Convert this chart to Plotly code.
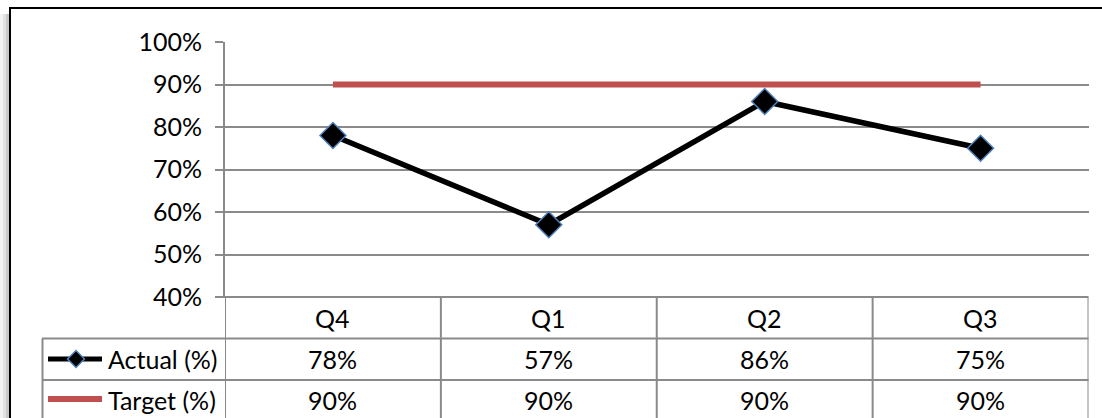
import plotly.graph_objects as go

# ---- data ----
categories = ["Q4", "Q1", "Q2", "Q3"]
actual = [78, 57, 86, 75]
target = [90, 90, 90, 90]
series_names = ["Actual (%)", "Target (%)"]
y_ticks = [40, 50, 60, 70, 80, 90, 100]
y_tick_labels = [f"{v}%" for v in y_ticks]

# ---- layout helpers ----
W, H = 1102, 418
def px(x):
    return x / W
def py(y):
    return 1 - y / H

FONT = "Lato"
FS = 25
GRID = "#8a8a8a"
RED = "#C0504D"
BLUE = "#4F81BD"

fig = go.Figure()
xi = list(range(len(categories)))

fig.add_trace(go.Scatter(x=xi, y=target, mode="lines",
                         line=dict(color=RED, width=6), hoverinfo="skip",
                         showlegend=False))
fig.add_trace(go.Scatter(x=xi, y=actual, mode="lines+markers",
                         line=dict(color="black", width=5.5),
                         marker=dict(symbol="diamond", size=20, color="black",
                                     line=dict(color=BLUE, width=1.5)),
                         hoverinfo="skip", showlegend=False))

# legend keys inside the data table (pixel overlay axes)
fig.add_trace(go.Scatter(x=[48, 102], y=[399, 399], mode="lines",
                         line=dict(color=RED, width=6), xaxis="x2", yaxis="y2",
                         hoverinfo="skip", showlegend=False))
fig.add_trace(go.Scatter(x=[48, 102], y=[359, 359], mode="lines",
                         line=dict(color="black", width=5), xaxis="x2", yaxis="y2",
                         hoverinfo="skip", showlegend=False))
fig.add_trace(go.Scatter(x=[76], y=[359], mode="markers",
                         marker=dict(symbol="diamond", size=13, color="black",
                                     line=dict(color=BLUE, width=1.5)),
                         xaxis="x2", yaxis="y2", hoverinfo="skip", showlegend=False))

shapes = []
# shadow on the left of the chart frame
for x0, x1, c in [(0, 3, "#f3f3f3"), (3, 6, "#e2e2e2"), (6, 9, "#c9c9c9")]:
    shapes.append(dict(type="rect", xref="paper", yref="paper",
                       x0=px(x0), x1=px(x1), y0=py(14), y1=py(H + 5),
                       fillcolor=c, line=dict(width=0), layer="below"))
# outer frame
shapes.append(dict(type="rect", xref="paper", yref="paper",
                   x0=px(10), y0=py(8), x1=px(W + 20), y1=py(H + 20),
                   line=dict(color="black", width=2), layer="below"))

# data table lines
n = len(categories)
for k in range(n + 1):
    shapes.append(dict(type="line", xref="x", yref="paper",
                       x0=k - 0.5, x1=k - 0.5, y0=py(297), y1=py(H + 5),
                       line=dict(color=GRID, width=2)))
shapes.append(dict(type="line", xref="paper", yref="paper",
                   x0=px(216), x1=px(1088.5), y0=py(297), y1=py(297),
                   line=dict(color=GRID, width=2)))
for yy in (338.5, 380):
    shapes.append(dict(type="line", xref="paper", yref="paper",
                       x0=px(42), x1=px(1088.5), y0=py(yy), y1=py(yy),
                       line=dict(color=GRID, width=2)))
shapes.append(dict(type="line", xref="paper", yref="paper",
                   x0=px(42.5), x1=px(42.5), y0=py(338.5), y1=py(H + 5),
                   line=dict(color=GRID, width=2)))

annotations = []
row_y = [318, 359, 400]
for i, c in enumerate(categories):
    annotations.append(dict(x=i, xref="x", y=py(row_y[0]), yref="paper",
                            text=c, showarrow=False, xanchor="center", yanchor="middle"))
    annotations.append(dict(x=i, xref="x", y=py(row_y[1]), yref="paper",
                            text=f"{actual[i]}%", showarrow=False, xanchor="center", yanchor="middle"))
    annotations.append(dict(x=i, xref="x", y=py(row_y[2]), yref="paper",
                            text=f"{target[i]}%", showarrow=False, xanchor="center", yanchor="middle"))
for name, yy in zip(series_names, row_y[1:]):
    annotations.append(dict(x=px(106), xref="paper", y=py(yy), yref="paper",
                            text=name, showarrow=False, xanchor="left", yanchor="middle"))

fig.update_layout(
    width=W, height=H,
    autosize=False,
    margin=dict(l=0, r=0, t=0, b=0, pad=0, autoexpand=False),
    paper_bgcolor="white", plot_bgcolor="rgba(0,0,0,0)",
    font=dict(family=FONT, size=FS, color="black"),
    showlegend=False,
    xaxis=dict(domain=[px(225), px(1088.5)], range=[-0.5, n - 0.5],
               showgrid=False, zeroline=False, showline=False,
               showticklabels=False, ticks="", automargin=False),
    yaxis=dict(domain=[py(297), py(42)], range=[40, 100],
               tickvals=y_ticks, ticktext=y_tick_labels,
               showgrid=True, gridcolor=GRID, gridwidth=2,
               showline=True, linecolor=GRID, linewidth=2,
               ticks="outside", ticklen=8, tickwidth=2, tickcolor=GRID,
               ticklabelstandoff=8, automargin=False,
               zeroline=False, tickfont=dict(family=FONT, size=FS, color="black")),
    xaxis2=dict(domain=[0, 1], range=[0, W], anchor="y2", visible=False,
                fixedrange=True, automargin=False),
    yaxis2=dict(domain=[0, 1], range=[H, 0], anchor="x2", visible=False,
                fixedrange=True, automargin=False),
    shapes=shapes,
    annotations=annotations,
)

fig.write_html("out.html")
